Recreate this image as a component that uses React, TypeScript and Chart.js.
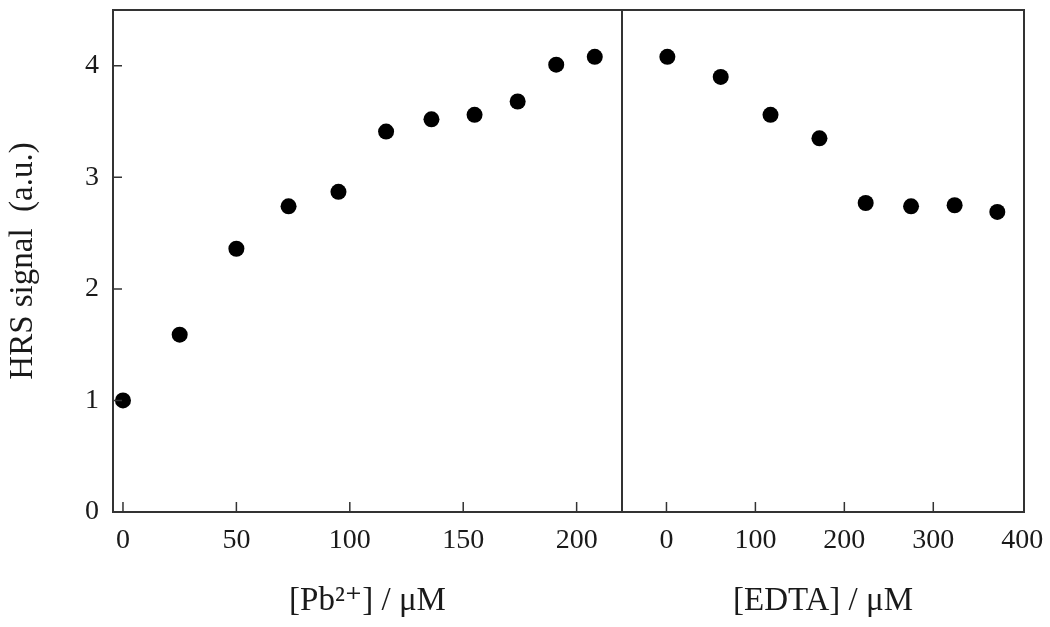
import React, { useEffect, useRef } from 'react';
import { Chart, registerables } from 'chart.js';

Chart.register(...registerables);

// Left panel: Pb2+ titration
const pbConc = [0, 25, 50, 73, 95, 116, 136, 155, 174, 191, 208];
const pbSignal = [1.0, 1.59, 2.36, 2.74, 2.87, 3.41, 3.52, 3.56, 3.68, 4.01, 4.08];
// Right panel: EDTA titration
const edtaConc = [1, 61, 117, 172, 224, 275, 324, 372];
const edtaSignal = [4.08, 3.9, 3.56, 3.35, 2.77, 2.74, 2.75, 2.69];

const pbTicks = [0, 50, 100, 150, 200];
const edtaTicks = [0, 100, 200, 300, 400];
const signalTicks = [0, 1, 2, 3, 4];

const yTitle = 'HRS signal  (a.u.)';
const pbTitle = '[Pb²⁺] / μM';
const edtaTitle = '[EDTA] / μM';

const FONT = "'Liberation Serif', 'DejaVu Serif', serif";
const AXIS = '#333';
const TEXT = '#1a1a1a';

const framePlugin = {
  id: 'frame',
  afterDraw(chart: any) {
    const { ctx, chartArea, scales } = chart;
    const { left, right, top, bottom } = chartArea;
    const x1 = scales.x;
    const x2 = scales.x2;
    const y = scales.y;
    ctx.save();
    ctx.strokeStyle = AXIS;
    ctx.lineWidth = 2;
    ctx.beginPath();
    // top and right frame
    ctx.moveTo(left, top);
    ctx.lineTo(right, top);
    ctx.lineTo(right, bottom);
    // divider between panels
    ctx.moveTo(x2.left, top);
    ctx.lineTo(x2.left, bottom);
    ctx.stroke();
    // inward ticks
    ctx.lineWidth = 1.5;
    ctx.beginPath();
    signalTicks.forEach((v) => {
      if (v === 0) return;
      const py = y.getPixelForValue(v);
      ctx.moveTo(left, py);
      ctx.lineTo(left + 9, py);
    });
    pbTicks.forEach((v) => {
      const px = x1.getPixelForValue(v);
      ctx.moveTo(px, bottom);
      ctx.lineTo(px, bottom - 10);
    });
    edtaTicks.forEach((v) => {
      const px = x2.getPixelForValue(v);
      if (px > right - 3) return;
      ctx.moveTo(px, bottom);
      ctx.lineTo(px, bottom - 10);
    });
    ctx.stroke();
    ctx.restore();
  },
};

const tickFont = { family: FONT, size: 28 };
const titleFont = { family: FONT, size: 33 };

const zeroPad = (s: any) => {
  s.paddingTop = 0;
  s.paddingBottom = 0;
  s.paddingLeft = 0;
  s.paddingRight = 0;
};

export default function App() {
  const ref = useRef<HTMLCanvasElement | null>(null);

  useEffect(() => {
    if (!ref.current) return;
    const chart = new Chart(ref.current, {
      type: 'scatter',
      data: {
        datasets: [
          {
            label: 'Pb',
            data: pbConc.map((x, i) => ({ x, y: pbSignal[i] })),
            xAxisID: 'x',
            yAxisID: 'y',
            backgroundColor: '#000',
            borderWidth: 0,
            pointRadius: 8,
          },
          {
            label: 'EDTA',
            data: edtaConc.map((x, i) => ({ x, y: edtaSignal[i] })),
            xAxisID: 'x2',
            yAxisID: 'y',
            backgroundColor: '#000',
            borderWidth: 0,
            pointRadius: 8,
          },
        ],
      },
      options: {
        animation: false,
        responsive: true,
        maintainAspectRatio: false,
        layout: { padding: { top: 10, right: 26, left: 0, bottom: 0 } },
        plugins: { legend: { display: false }, tooltip: { enabled: false } },
        scales: {
          x: {
            type: 'linear',
            position: 'bottom',
            stack: 'xs',
            stackWeight: 509,
            min: -4.4,
            max: 220,
            grid: { display: false, drawTicks: false },
            border: { display: true, color: AXIS, width: 2 },
            afterBuildTicks: (s: any) => {
              s.ticks = pbTicks.map((v) => ({ value: v }));
            },
            afterFit: (s: any) => {
              s.height = 115;
              zeroPad(s);
            },
            ticks: { font: tickFont, color: TEXT, padding: 12, maxRotation: 0, autoSkip: false },
            title: { display: true, text: pbTitle, font: titleFont, color: TEXT, padding: { top: 0, bottom: 6 } },
          },
          x2: {
            type: 'linear',
            position: 'bottom',
            stack: 'xs',
            stackWeight: 402,
            min: -50,
            max: 402,
            grid: { display: false, drawTicks: false },
            border: { display: true, color: AXIS, width: 2 },
            afterBuildTicks: (s: any) => {
              s.ticks = edtaTicks.map((v) => ({ value: v }));
            },
            afterFit: (s: any) => {
              s.height = 115;
              zeroPad(s);
            },
            ticks: { font: tickFont, color: TEXT, padding: 12, maxRotation: 0, autoSkip: false },
            title: { display: true, text: edtaTitle, font: titleFont, color: TEXT, padding: { top: 0, bottom: 6 } },
          },
          y: {
            type: 'linear',
            position: 'left',
            min: 0,
            max: 4.5,
            grid: { display: false, drawTicks: false },
            border: { display: true, color: AXIS, width: 2 },
            afterBuildTicks: (s: any) => {
              s.ticks = signalTicks.map((v) => ({ value: v }));
            },
            afterFit: (s: any) => {
              s.width = 113;
              zeroPad(s);
            },
            ticks: { font: tickFont, color: TEXT, padding: 14 },
            title: { display: true, text: yTitle, font: { family: FONT, size: 33 }, color: TEXT, padding: { top: 4, bottom: 0 } },
          },
        },
      },
      plugins: [framePlugin],
    } as any);
    return () => chart.destroy();
  }, []);

  return (
    <div style={{ position: 'fixed', left: 0, top: 0, width: 1050, height: 627, background: '#fff' }}>
      <canvas ref={ref} />
    </div>
  );
}
